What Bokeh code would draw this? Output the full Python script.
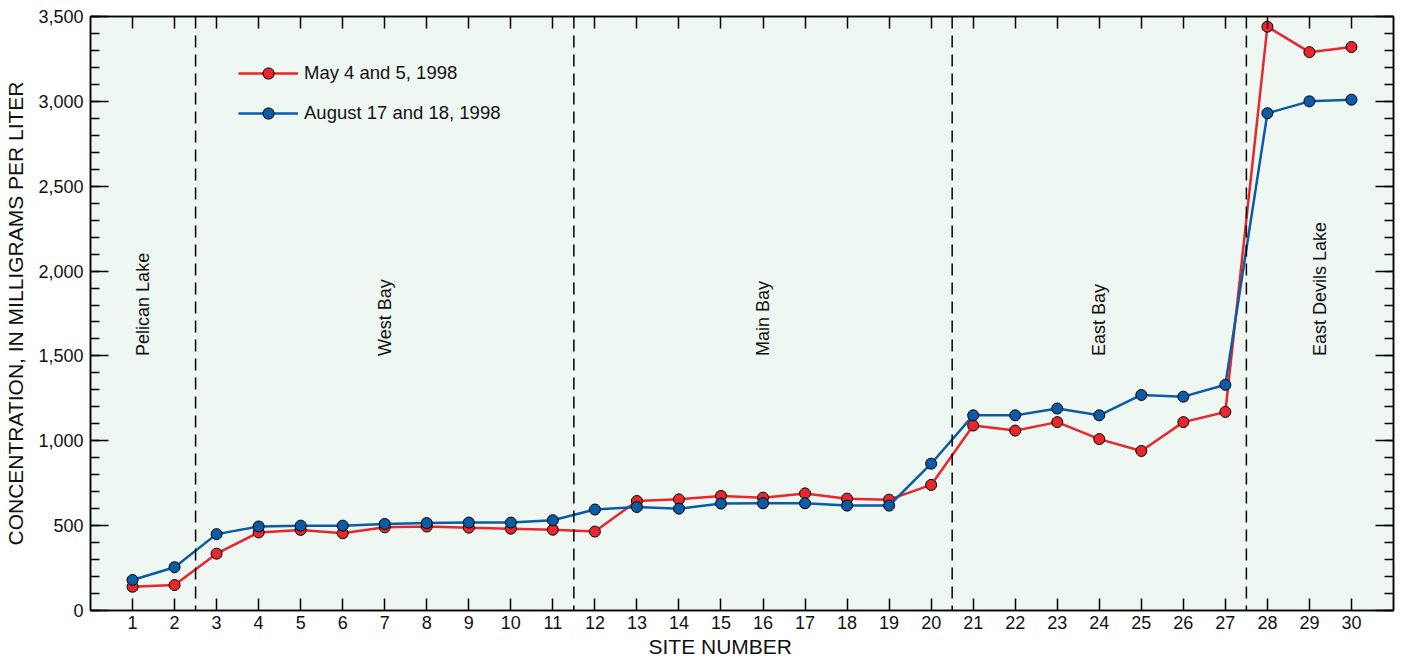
import numpy as np
from bokeh.plotting import figure
from bokeh.models import (Range1d, LinearAxis, FixedTicker, NumeralTickFormatter, CustomJSTickFormatter,
                          Span, Title, Legend, LegendItem, ColumnDataSource)
from bokeh.core.properties import value
from bokeh.embed import file_html
from bokeh.resources import INLINE

sites = list(range(1, 31))
may_1998 = [140, 150, 335, 460, 475, 455, 490, 495, 488, 482, 476, 465, 645, 655, 675, 665, 690, 659, 653, 740,
            1090, 1060, 1110, 1010, 940, 1110, 1170, 3440, 3290, 3320]
aug_1998 = [180, 255, 450, 495, 500, 500, 510, 515, 518, 518, 532, 595, 610, 600, 630, 632, 632, 618, 618, 865,
            1150, 1150, 1190, 1150, 1270, 1260, 1330, 2930, 3000, 3010]
series_names = ["May 4 and 5, 1998", "August 17 and 18, 1998"]
dividers = [2.5, 11.5, 20.5, 27.5]
region_names = ["Pelican Lake", "West Bay", "Main Bay", "East Bay", "East Devils Lake"]
region_x = [1.25, 7, 16, 24, 29.25]
region_y = [1500, 1500, 1500, 1500, 1500]
y_major = [0, 500, 1000, 1500, 2000, 2500, 3000, 3500]
y_minor = list(range(0, 3501, 100))

FONT = "Liberation Sans"
RED = "#E8262D"
BLUE = "#0B5BA6"
TXT = "#111111"

p = figure(width=1398, height=659, output_backend="svg", toolbar_location=None,
           x_range=Range1d(0, 31), y_range=Range1d(0, 3500),
           min_border_left=90, min_border_right=5, min_border_top=16, min_border_bottom=48)
p.background_fill_color = "#EEF7F2"
p.border_fill_color = "white"
p.outline_line_color = "black"
p.outline_line_width = 1.5
p.xgrid.visible = False
p.ygrid.visible = False

# bottom x axis
xa = p.xaxis[0]
xa.ticker = FixedTicker(ticks=sites)
xa.major_tick_in = 12
xa.major_tick_out = 0
xa.minor_tick_line_color = None
xa.major_label_text_font = FONT
xa.major_label_text_font_size = "18px"
xa.major_label_text_color = TXT
xa.major_label_standoff = 5
xa.axis_line_width = 1.5
xa.major_tick_line_width = 1.5

# left y axis
ya = p.yaxis[0]
ya.ticker = FixedTicker(ticks=y_major, minor_ticks=y_minor)
ya.formatter = NumeralTickFormatter(format="0,0")
ya.major_tick_in = 18
ya.major_tick_out = 0
ya.minor_tick_in = 9
ya.minor_tick_out = 0
ya.major_label_text_font = FONT
ya.major_label_text_font_size = "18px"
ya.major_label_text_color = TXT
ya.major_label_standoff = 7
ya.axis_label = "CONCENTRATION, IN MILLIGRAMS PER LITER"
ya.axis_label_text_font = FONT
ya.axis_label_text_font_size = "21px"
ya.axis_label_text_font_style = "normal"
ya.axis_label_text_color = TXT
ya.axis_label_standoff = 8
ya.axis_line_width = 1.5
ya.major_tick_line_width = 1.5
ya.minor_tick_line_width = 1.5

blank = CustomJSTickFormatter(code="return ''")

# right y axis (ticks only)
ra = LinearAxis(ticker=FixedTicker(ticks=y_major, minor_ticks=y_minor), formatter=blank,
                major_tick_in=18, major_tick_out=0, minor_tick_in=9, minor_tick_out=0,
                major_label_standoff=0,
                axis_line_width=1.5, major_tick_line_width=1.5, minor_tick_line_width=1.5)
p.add_layout(ra, "right")

# top x axis (ticks only)
ta = LinearAxis(ticker=FixedTicker(ticks=sites), formatter=blank, major_tick_in=12, major_tick_out=0,
                minor_tick_line_color=None, major_label_standoff=0,
                axis_line_width=1.5, major_tick_line_width=1.5)
p.add_layout(ta, "above")

# x axis title (offset left of frame centre as in the reference)
p.add_layout(Title(text="SITE NUMBER", align="left", offset=558, standoff=3,
                   text_font=FONT, text_font_size="21px", text_font_style="normal", text_color=TXT),
             "below")

# dividers
for d in dividers:
    p.add_layout(Span(location=d, dimension="height", line_color="black", line_width=1.5, line_dash="12 7"))

# region labels
src_r = ColumnDataSource(dict(x=region_x, y=region_y, t=region_names))
p.text(x="x", y="y", text="t", source=src_r, angle=np.pi / 2, text_align="left", text_baseline="middle",
       text_font=value(FONT), text_font_size="18px", text_color=TXT)

# series
r_line_may = p.line(sites, may_1998, line_color=RED, line_width=2.5)
r_pt_may = p.scatter(sites, may_1998, size=11, fill_color=RED, line_color="black", line_width=1)
r_line_aug = p.line(sites, aug_1998, line_color=BLUE, line_width=2.5)
r_pt_aug = p.scatter(sites, aug_1998, size=11, fill_color=BLUE, line_color="black", line_width=1)

legend = Legend(items=[LegendItem(label=series_names[0], renderers=[r_line_may, r_pt_may]),
                       LegendItem(label=series_names[1], renderers=[r_line_aug, r_pt_aug])],
                location=(148, 483), glyph_width=60, glyph_height=28, label_height=28, spacing=12,
                label_standoff=6, padding=0, margin=0, border_line_alpha=0, background_fill_alpha=0,
                label_text_font=FONT, label_text_font_size="18.5px", label_text_color=TXT)
p.add_layout(legend, "center")

open("out.html", "w").write(file_html(p, INLINE))
